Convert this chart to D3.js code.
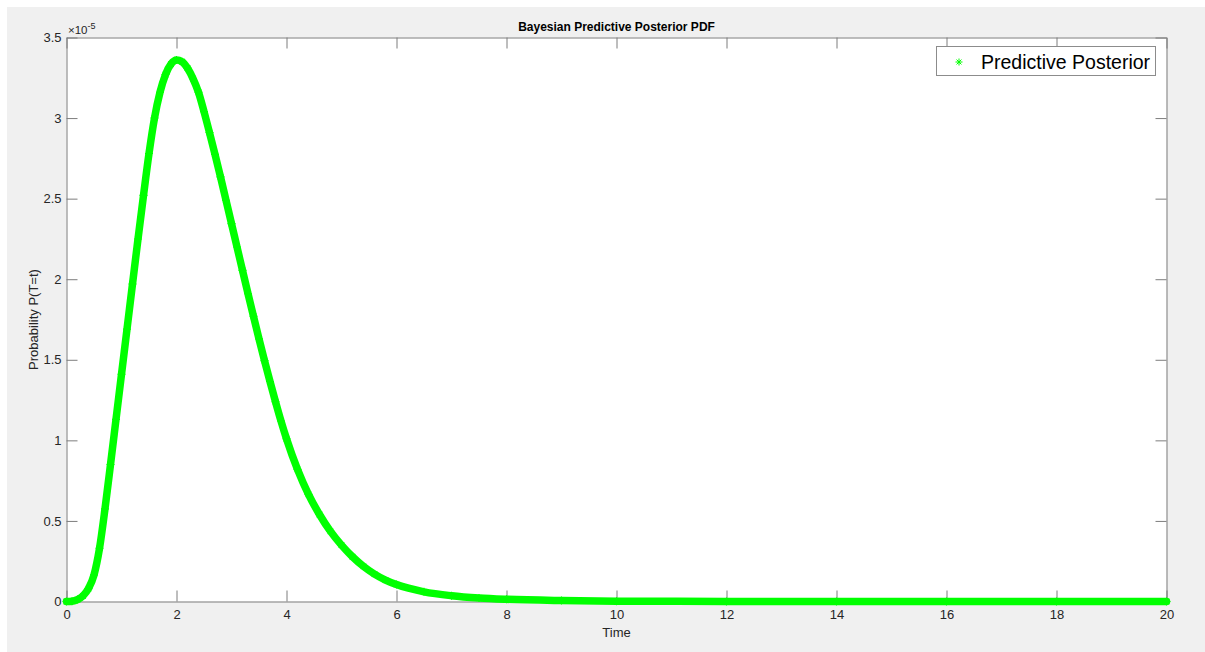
<!DOCTYPE html>
<html>
<head>
<meta charset="utf-8">
<script src="https://cdn.jsdelivr.net/npm/d3@7"></script>
<style>
  body { margin: 0; background: #ffffff; }
  svg { display: block; }
  text { font-family: "Liberation Sans", Arial, Helvetica, sans-serif; }
</style>
</head>
<body>
<svg id="chart" width="1205" height="652"></svg>
<script>
// Predictive posterior density, P(T=t) in units of 1e-5
const timePoints = [
  0, 0.1, 0.2, 0.3, 0.4, 0.5, 0.6, 0.7, 0.8, 0.9,
  1.0, 1.1, 1.2, 1.3, 1.4, 1.5, 1.6, 1.7, 1.8, 1.9,
  2.0, 2.1, 2.2, 2.3, 2.4, 2.5, 2.6, 2.7, 2.8, 2.9,
  3.0, 3.1, 3.2, 3.3, 3.4, 3.5, 3.6, 3.7, 3.8, 3.9,
  4.0, 4.2, 4.4, 4.6, 4.8, 5.0, 5.2, 5.4, 5.6, 5.8,
  6.0, 6.5, 7.0, 7.5, 8.0, 9.0, 10, 12, 14, 16, 18, 20
];
const posteriorE5 = [
  0, 0.002, 0.012, 0.035, 0.08, 0.165, 0.33, 0.575, 0.85, 1.13,
  1.41, 1.69, 1.97, 2.25, 2.52, 2.78, 3.00, 3.16, 3.27, 3.335,
  3.36, 3.35, 3.31, 3.245, 3.16, 3.04, 2.91, 2.775, 2.635, 2.49,
  2.345, 2.20, 2.055, 1.91, 1.77, 1.63, 1.495, 1.365, 1.24, 1.12,
  1.01, 0.82, 0.665, 0.54, 0.435, 0.35, 0.278, 0.218, 0.17, 0.133,
  0.105, 0.06, 0.036, 0.022, 0.014, 0.006, 0.002, 0.0005, 0.0001, 0, 0, 0
];
const xTickValues = [0, 2, 4, 6, 8, 10, 12, 14, 16, 18, 20];
const yTickValues = [0, 0.5, 1, 1.5, 2, 2.5, 3, 3.5];
const yTickLabels = ["0", "0.5", "1", "1.5", "2", "2.5", "3", "3.5"];
const titleText = "Bayesian Predictive Posterior PDF";
const xAxisLabel = "Time";
const yAxisLabel = "Probability P(T=t)";
const seriesName = "Predictive Posterior";

const W = 1205, H = 652;
const plot = { left: 66.5, right: 1166.5, top: 37.5, bottom: 601.5 };
const green = "#00ff00";
const axisColor = "#7d7d7d";
const textColor = "#262626";

const svg = d3.select("#chart");

// figure background
svg.append("rect").attr("x", 7).attr("y", 7)
  .attr("width", W - 7).attr("height", H - 7).attr("fill", "#f0f0f0");

// axes area
svg.append("rect")
  .attr("x", plot.left).attr("y", plot.top)
  .attr("width", plot.right - plot.left).attr("height", plot.bottom - plot.top)
  .attr("fill", "#ffffff");

const x = d3.scaleLinear().domain([0, 20]).range([plot.left, plot.right]);
const y = d3.scaleLinear().domain([0, 3.5]).range([plot.bottom, plot.top]);

function styleAxis(g) {
  g.select(".domain").attr("stroke", axisColor).attr("stroke-width", 1);
  g.selectAll(".tick line").attr("stroke", axisColor).attr("stroke-width", 1);
  g.selectAll(".tick text").attr("fill", textColor).attr("font-size", 13)
    .attr("font-family", "'Liberation Sans', Arial, sans-serif");
}

const tick = 11;
svg.append("g").attr("transform", `translate(0,${plot.bottom})`)
  .call(d3.axisBottom(x).tickValues(xTickValues).tickFormat(d3.format("d"))
    .tickSizeInner(-tick).tickSizeOuter(0).tickPadding(8))
  .call(styleAxis);
svg.append("g").attr("transform", `translate(0,${plot.top})`)
  .call(d3.axisTop(x).tickValues(xTickValues).tickFormat("")
    .tickSizeInner(-tick).tickSizeOuter(0))
  .call(styleAxis);
svg.append("g").attr("transform", `translate(${plot.left},0)`)
  .call(d3.axisLeft(y).tickValues(yTickValues)
    .tickFormat((d, i) => yTickLabels[i])
    .tickSizeInner(-tick).tickSizeOuter(0).tickPadding(5))
  .call(styleAxis);
svg.append("g").attr("transform", `translate(${plot.right},0)`)
  .call(d3.axisRight(y).tickValues(yTickValues).tickFormat("")
    .tickSizeInner(-tick).tickSizeOuter(0))
  .call(styleAxis);

// exponent multiplier above the y axis
const expo = svg.append("text").attr("x", 68).attr("y", 33.5)
  .attr("fill", textColor).attr("font-size", 11.5);
expo.append("tspan").text("\u00d710");
expo.append("tspan").attr("dy", -5).attr("font-size", 9).text("-5");

// data series: dense star markers drawn as a thick band
const data = timePoints.map((t, i) => ({ t: t, p: posteriorE5[i] }));

const line = d3.line().x(d => x(d.t)).y(d => y(d.p)).curve(d3.curveMonotoneX);
svg.append("path").datum(data)
  .attr("d", line)
  .attr("fill", "none")
  .attr("stroke", green)
  .attr("stroke-width", 7.5)
  .attr("stroke-linejoin", "round")
  .attr("stroke-linecap", "round");

const starPath = r => {
  const s = r * 0.7;
  return `M${-r},0L${r},0M0,${-r}L0,${r}M${-s},${-s}L${s},${s}M${-s},${s}L${s},${-s}`;
};
svg.append("g").selectAll("path").data(data).join("path")
  .attr("transform", d => `translate(${x(d.t)},${y(d.p)})`)
  .attr("d", starPath(4))
  .attr("stroke", green).attr("stroke-width", 1.1).attr("fill", "none");

// title and axis labels
svg.append("text").attr("x", (plot.left + plot.right) / 2).attr("y", 31)
  .attr("text-anchor", "middle").attr("font-weight", "bold")
  .attr("font-size", 12).attr("fill", "#000000").text(titleText);
svg.append("text").attr("x", (plot.left + plot.right) / 2).attr("y", 637)
  .attr("text-anchor", "middle").attr("font-size", 13)
  .attr("fill", textColor).text(xAxisLabel);
svg.append("text")
  .attr("transform", `translate(38,${(plot.top + plot.bottom) / 2}) rotate(-90)`)
  .attr("text-anchor", "middle").attr("font-size", 13)
  .attr("fill", textColor).text(yAxisLabel);

// legend
const legend = svg.append("g");
legend.append("rect").attr("x", 936.5).attr("y", 46.5)
  .attr("width", 219).attr("height", 29)
  .attr("fill", "#ffffff").attr("stroke", "#8c8c8c").attr("stroke-width", 1);
legend.append("path").attr("transform", "translate(959,62)")
  .attr("d", starPath(3.5)).attr("stroke", green).attr("stroke-width", 1).attr("fill", "none");
legend.append("text").attr("x", 981).attr("y", 69)
  .attr("font-size", 19.5).attr("fill", "#000000").text(seriesName);
</script>
</body>
</html>
